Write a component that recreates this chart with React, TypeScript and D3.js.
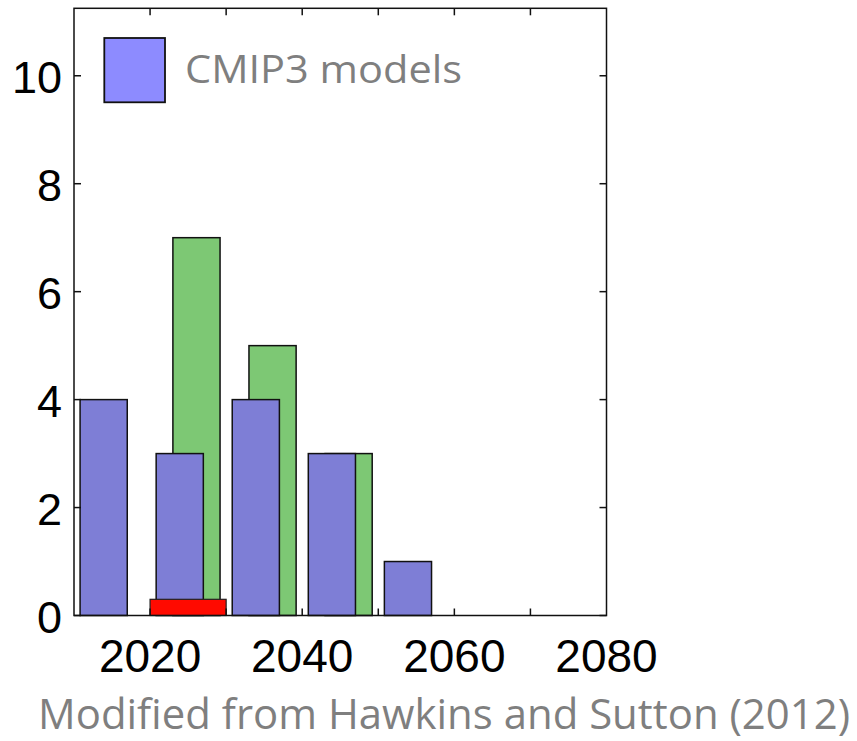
import React from "react";
import * as d3 from "d3";

// Decade bins (left edge of each decade)
const bins = [2010, 2020, 2030, 2040, 2050, 2060, 2070];
// Number of CMIP3 models per decade (blue)
const cmip3Counts = [4, 3, 4, 3, 1, 0, 0];
// Second model set per decade (green)
const otherCounts = [0, 7, 5, 3, 0, 0, 0];
// Observed range marker (red)
const observedRange = [2020, 2030];
const observedHeight = 0.3;

const yTicks = [0, 2, 4, 6, 8, 10];
const xTicks = [2020, 2030, 2040, 2050, 2060, 2070];
const xTickLabels = [2020, 2040, 2060, 2080];

const legendLabel = "CMIP3 models";
const caption = "Modified from Hawkins and Sutton (2012)";

const W = 857;
const H = 741;
const plot = { left: 74, right: 606.5, top: 8.3, bottom: 615.5 };

export default function App() {
  const x = d3.scaleLinear().domain([2010, 2080]).range([plot.left, plot.right]);
  const y = d3.scaleLinear().domain([0, 11.25]).range([plot.bottom, plot.top]);

  const barW = 6.2;
  const blueOff = 3.9;
  const greenOff = 6.1;
  const tickLen = 7;
  const axisFont = "'Liberation Sans', Arial, Helvetica, sans-serif";
  const textFont = "'Open Sans', 'Noto Sans', sans-serif";

  return (
    <svg
      width={W}
      height={H}
      style={{ position: "absolute", left: 0, top: 0, background: "#fff" }}
    >
      <rect x={0} y={0} width={W} height={H} fill="#fff" />

      {/* green bars, drawn behind */}
      {bins.map((b, i) =>
        otherCounts[i] > 0 ? (
          <rect
            key={"g" + b}
            x={x(b + greenOff - barW / 2)}
            y={y(otherCounts[i])}
            width={x(b + greenOff + barW / 2) - x(b + greenOff - barW / 2)}
            height={y(0) - y(otherCounts[i])}
            fill="#7dc874"
            stroke="#111"
            strokeWidth={1.5}
          />
        ) : null
      )}

      {/* blue bars */}
      {bins.map((b, i) =>
        cmip3Counts[i] > 0 ? (
          <rect
            key={"b" + b}
            x={x(b + blueOff - barW / 2)}
            y={y(cmip3Counts[i])}
            width={x(b + blueOff + barW / 2) - x(b + blueOff - barW / 2)}
            height={y(0) - y(cmip3Counts[i])}
            fill="#7e7ed6"
            stroke="#111"
            strokeWidth={1.5}
          />
        ) : null
      )}

      {/* red range */}
      <rect
        x={x(observedRange[0])}
        y={y(observedHeight)}
        width={x(observedRange[1]) - x(observedRange[0])}
        height={y(0) - y(observedHeight)}
        fill="#ff0a00"
        stroke="#222"
        strokeWidth={1.2}
      />

      {/* axes frame */}
      <rect
        x={plot.left}
        y={plot.top}
        width={plot.right - plot.left}
        height={plot.bottom - plot.top}
        fill="none"
        stroke="#111"
        strokeWidth={1.5}
      />

      {/* y ticks, both sides, inward */}
      {yTicks.map((t) => (
        <g key={"yt" + t}>
          <line x1={plot.left} x2={plot.left + tickLen} y1={y(t)} y2={y(t)} stroke="#111" strokeWidth={1.5} />
          <line x1={plot.right} x2={plot.right - tickLen} y1={y(t)} y2={y(t)} stroke="#111" strokeWidth={1.5} />
          <text
            x={62}
            y={y(t) + 17.5}
            textAnchor="end"
            fontFamily={axisFont}
            fontSize={45}
            fill="#000"
          >
            {t}
          </text>
        </g>
      ))}

      {/* x ticks, top and bottom, inward */}
      {xTicks.map((t) => (
        <g key={"xt" + t}>
          <line x1={x(t)} x2={x(t)} y1={plot.bottom} y2={plot.bottom - tickLen} stroke="#111" strokeWidth={1.5} />
          <line x1={x(t)} x2={x(t)} y1={plot.top} y2={plot.top + tickLen} stroke="#111" strokeWidth={1.5} />
        </g>
      ))}
      {xTickLabels.map((t) => (
        <text
          key={"xl" + t}
          x={x(t)}
          y={671.7}
          textAnchor="middle"
          fontFamily={axisFont}
          fontSize={46}
          fill="#000"
        >
          {t}
        </text>
      ))}

      {/* legend */}
      <rect x={104.3} y={38} width={60.7} height={64.3} fill="#8d8bff" stroke="#111" strokeWidth={1.8} />
      <text
        x={185}
        y={83.3}
        fontFamily={textFont}
        fontSize={39}
        fill="#7f7f7f"
        textLength={277}
        lengthAdjust="spacingAndGlyphs"
      >
        {legendLabel}
      </text>

      {/* source caption */}
      <text
        x={38}
        y={728.5}
        fontFamily={textFont}
        fontSize={42}
        fill="#7f7f7f"
        textLength={812}
        lengthAdjust="spacingAndGlyphs"
      >
        {caption}
      </text>
    </svg>
  );
}
